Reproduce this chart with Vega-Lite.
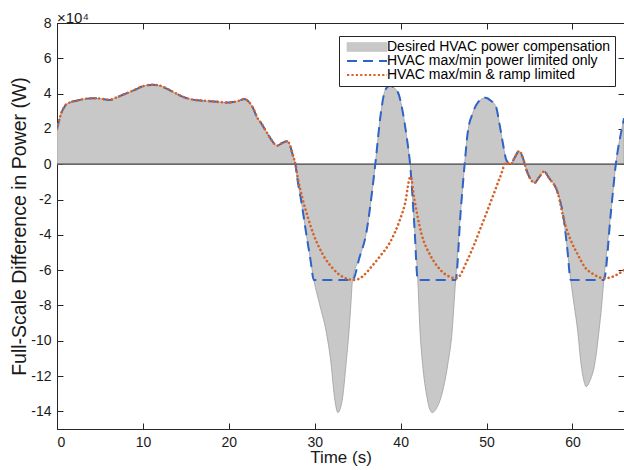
{
  "$schema": "https://vega.github.io/schema/vega-lite/v6.json",
  "width": 567,
  "height": 406,
  "autosize": "none",
  "padding": {"left": 57, "top": 23, "right": 0, "bottom": 41},
  "background": "white",
  "config": {
    "font": "Liberation Sans",
    "view": {"stroke": "#262626", "strokeWidth": 1},
    "axis": {"grid": false, "domainColor": "#262626", "tickColor": "#262626", "labelColor": "#1a1a1a", "titleColor": "#1a1a1a", "labelFontSize": 14, "titleFontWeight": "normal", "labelFont": "Liberation Sans", "titleFont": "Liberation Sans"}
  },
  "title": {"text": "×10⁴", "anchor": "start", "frame": "group", "fontSize": 15, "fontWeight": "normal", "offset": 0, "dy": 10, "color": "#1a1a1a", "font": "Liberation Sans"},
  "data": {"values": [
    {"t":0,"s":"d","p":20000},{"t":0.5,"s":"d","p":29000},{"t":1,"s":"d","p":33500},{"t":1.5,"s":"d","p":35000},{"t":2.25,"s":"d","p":36000},{"t":3,"s":"d","p":36800},{"t":4.2,"s":"d","p":37400},{"t":5,"s":"d","p":37200},{"t":6.1,"s":"d","p":36400},{"t":7,"s":"d","p":38000},{"t":8,"s":"d","p":40000},{"t":9,"s":"d","p":42000},{"t":10,"s":"d","p":44200},{"t":11.2,"s":"d","p":45000},{"t":12,"s":"d","p":44500},{"t":12.7,"s":"d","p":43000},{"t":13.7,"s":"d","p":40500},{"t":14.6,"s":"d","p":38300},{"t":15.8,"s":"d","p":36600},{"t":17,"s":"d","p":36000},{"t":17.8,"s":"d","p":35700},{"t":19,"s":"d","p":35200},{"t":19.7,"s":"d","p":34900},{"t":20.5,"s":"d","p":35200},{"t":21.2,"s":"d","p":36000},{"t":21.8,"s":"d","p":37000},{"t":22.3,"s":"d","p":35500},{"t":22.8,"s":"d","p":32000},{"t":23.3,"s":"d","p":26500},{"t":23.8,"s":"d","p":23000},{"t":24.3,"s":"d","p":19000},{"t":25,"s":"d","p":13500},{"t":25.6,"s":"d","p":10500},{"t":26.2,"s":"d","p":12000},{"t":26.8,"s":"d","p":13000},{"t":27.1,"s":"d","p":11000},{"t":27.4,"s":"d","p":6000},{"t":27.75,"s":"d","p":0},{"t":28,"s":"d","p":-9000},{"t":28.4,"s":"d","p":-20000},{"t":29,"s":"d","p":-39000},{"t":29.5,"s":"d","p":-54000},{"t":29.9,"s":"d","p":-65600},{"t":30.6,"s":"d","p":-80000},{"t":31.3,"s":"d","p":-94000},{"t":31.9,"s":"d","p":-113000},{"t":32.3,"s":"d","p":-132000},{"t":32.7,"s":"d","p":-140700},{"t":33,"s":"d","p":-138000},{"t":33.25,"s":"d","p":-132000},{"t":33.65,"s":"d","p":-113000},{"t":34,"s":"d","p":-94000},{"t":34.2,"s":"d","p":-80000},{"t":34.4,"s":"d","p":-65600},{"t":35.2,"s":"d","p":-53000},{"t":36,"s":"d","p":-39000},{"t":36.7,"s":"d","p":-14600},{"t":37.05,"s":"d","p":0},{"t":37.7,"s":"d","p":29000},{"t":38.2,"s":"d","p":42000},{"t":38.75,"s":"d","p":44400},{"t":39.65,"s":"d","p":41000},{"t":40.2,"s":"d","p":30800},{"t":40.7,"s":"d","p":15600},{"t":41.1,"s":"d","p":0},{"t":41.6,"s":"d","p":-35000},{"t":42,"s":"d","p":-65600},{"t":42.25,"s":"d","p":-94000},{"t":42.55,"s":"d","p":-113000},{"t":43.07,"s":"d","p":-132000},{"t":43.4,"s":"d","p":-139000},{"t":43.7,"s":"d","p":-140700},{"t":44.2,"s":"d","p":-138000},{"t":44.7,"s":"d","p":-132000},{"t":45.5,"s":"d","p":-113000},{"t":46,"s":"d","p":-94000},{"t":46.2,"s":"d","p":-80000},{"t":46.4,"s":"d","p":-65600},{"t":47,"s":"d","p":-26000},{"t":47.45,"s":"d","p":0},{"t":47.8,"s":"d","p":17600},{"t":48.4,"s":"d","p":29000},{"t":49,"s":"d","p":35000},{"t":49.9,"s":"d","p":37700},{"t":50.5,"s":"d","p":36000},{"t":51.1,"s":"d","p":32600},{"t":51.5,"s":"d","p":23000},{"t":51.9,"s":"d","p":11900},{"t":52.3,"s":"d","p":2400},{"t":52.8,"s":"d","p":0},{"t":53.3,"s":"d","p":4000},{"t":53.8,"s":"d","p":7500},{"t":54.2,"s":"d","p":4000},{"t":54.7,"s":"d","p":-4000},{"t":55.6,"s":"d","p":-10500},{"t":56.1,"s":"d","p":-7500},{"t":56.7,"s":"d","p":-4200},{"t":57.3,"s":"d","p":-8000},{"t":58.3,"s":"d","p":-16400},{"t":59,"s":"d","p":-31600},{"t":59.4,"s":"d","p":-48000},{"t":59.8,"s":"d","p":-65600},{"t":60.2,"s":"d","p":-80000},{"t":60.6,"s":"d","p":-94000},{"t":61,"s":"d","p":-113000},{"t":61.3,"s":"d","p":-122000},{"t":61.6,"s":"d","p":-126000},{"t":62,"s":"d","p":-123000},{"t":62.6,"s":"d","p":-113000},{"t":63.1,"s":"d","p":-94000},{"t":63.4,"s":"d","p":-80000},{"t":63.65,"s":"d","p":-65600},{"t":64.5,"s":"d","p":-26000},{"t":65.05,"s":"d","p":0},{"t":65.8,"s":"d","p":21300},{"t":66,"s":"d","p":26000},

    {"t":0,"s":"b","p":20000},{"t":0.5,"s":"b","p":29000},{"t":1,"s":"b","p":33500},{"t":1.5,"s":"b","p":35000},{"t":2.25,"s":"b","p":36000},{"t":3,"s":"b","p":36800},{"t":4.2,"s":"b","p":37400},{"t":5,"s":"b","p":37200},{"t":6.1,"s":"b","p":36400},{"t":7,"s":"b","p":38000},{"t":8,"s":"b","p":40000},{"t":9,"s":"b","p":42000},{"t":10,"s":"b","p":44200},{"t":11.2,"s":"b","p":45000},{"t":12,"s":"b","p":44500},{"t":12.7,"s":"b","p":43000},{"t":13.7,"s":"b","p":40500},{"t":14.6,"s":"b","p":38300},{"t":15.8,"s":"b","p":36600},{"t":17,"s":"b","p":36000},{"t":17.8,"s":"b","p":35700},{"t":19,"s":"b","p":35200},{"t":19.7,"s":"b","p":34900},{"t":20.5,"s":"b","p":35200},{"t":21.2,"s":"b","p":36000},{"t":21.8,"s":"b","p":37000},{"t":22.3,"s":"b","p":35500},{"t":22.8,"s":"b","p":32000},{"t":23.3,"s":"b","p":26500},{"t":23.8,"s":"b","p":23000},{"t":24.3,"s":"b","p":19000},{"t":25,"s":"b","p":13500},{"t":25.6,"s":"b","p":10500},{"t":26.2,"s":"b","p":12000},{"t":26.8,"s":"b","p":13000},{"t":27.1,"s":"b","p":11000},{"t":27.4,"s":"b","p":6000},{"t":27.75,"s":"b","p":0},{"t":28,"s":"b","p":-9000},{"t":28.4,"s":"b","p":-20000},{"t":29,"s":"b","p":-39000},{"t":29.5,"s":"b","p":-54000},{"t":29.9,"s":"b","p":-65600},{"t":34.4,"s":"b","p":-65600},{"t":35.2,"s":"b","p":-53000},{"t":36,"s":"b","p":-39000},{"t":36.7,"s":"b","p":-14600},{"t":37.05,"s":"b","p":0},{"t":37.7,"s":"b","p":29000},{"t":38.2,"s":"b","p":42000},{"t":38.75,"s":"b","p":44400},{"t":39.65,"s":"b","p":41000},{"t":40.2,"s":"b","p":30800},{"t":40.7,"s":"b","p":15600},{"t":41.1,"s":"b","p":0},{"t":41.6,"s":"b","p":-35000},{"t":42,"s":"b","p":-65600},{"t":46.4,"s":"b","p":-65600},{"t":47,"s":"b","p":-26000},{"t":47.45,"s":"b","p":0},{"t":47.8,"s":"b","p":17600},{"t":48.4,"s":"b","p":29000},{"t":49,"s":"b","p":35000},{"t":49.9,"s":"b","p":37700},{"t":50.5,"s":"b","p":36000},{"t":51.1,"s":"b","p":32600},{"t":51.5,"s":"b","p":23000},{"t":51.9,"s":"b","p":11900},{"t":52.3,"s":"b","p":2400},{"t":52.8,"s":"b","p":0},{"t":53.3,"s":"b","p":4000},{"t":53.8,"s":"b","p":7500},{"t":54.2,"s":"b","p":4000},{"t":54.7,"s":"b","p":-4000},{"t":55.6,"s":"b","p":-10500},{"t":56.1,"s":"b","p":-7500},{"t":56.7,"s":"b","p":-4200},{"t":57.3,"s":"b","p":-8000},{"t":58.3,"s":"b","p":-16400},{"t":59,"s":"b","p":-31600},{"t":59.4,"s":"b","p":-48000},{"t":59.8,"s":"b","p":-65600},{"t":63.65,"s":"b","p":-65600},{"t":64.5,"s":"b","p":-26000},{"t":65.05,"s":"b","p":0},{"t":65.8,"s":"b","p":21300},{"t":66,"s":"b","p":26000},

    {"t":0,"s":"o","p":20000},{"t":0.5,"s":"o","p":29000},{"t":1,"s":"o","p":33500},{"t":1.5,"s":"o","p":35000},{"t":2.25,"s":"o","p":36000},{"t":3,"s":"o","p":36800},{"t":4.2,"s":"o","p":37400},{"t":5,"s":"o","p":37200},{"t":6.1,"s":"o","p":36400},{"t":7,"s":"o","p":38000},{"t":8,"s":"o","p":40000},{"t":9,"s":"o","p":42000},{"t":10,"s":"o","p":44200},{"t":11.2,"s":"o","p":45000},{"t":12,"s":"o","p":44500},{"t":12.7,"s":"o","p":43000},{"t":13.7,"s":"o","p":40500},{"t":14.6,"s":"o","p":38300},{"t":15.8,"s":"o","p":36600},{"t":17,"s":"o","p":36000},{"t":17.8,"s":"o","p":35700},{"t":19,"s":"o","p":35200},{"t":19.7,"s":"o","p":34900},{"t":20.5,"s":"o","p":35200},{"t":21.2,"s":"o","p":36000},{"t":21.8,"s":"o","p":37000},{"t":22.3,"s":"o","p":35500},{"t":22.8,"s":"o","p":32000},{"t":23.3,"s":"o","p":26500},{"t":23.8,"s":"o","p":23000},{"t":24.3,"s":"o","p":19000},{"t":25,"s":"o","p":13500},{"t":25.6,"s":"o","p":10500},{"t":26.2,"s":"o","p":12000},{"t":26.8,"s":"o","p":13000},{"t":27.1,"s":"o","p":11000},{"t":27.4,"s":"o","p":6000},{"t":27.75,"s":"o","p":0},{"t":28,"s":"o","p":-7000},{"t":28.6,"s":"o","p":-20000},{"t":29.2,"s":"o","p":-30000},{"t":29.8,"s":"o","p":-39000},{"t":30.5,"s":"o","p":-47000},{"t":31.3,"s":"o","p":-54000},{"t":32.1,"s":"o","p":-59000},{"t":32.9,"s":"o","p":-62700},{"t":33.7,"s":"o","p":-64800},{"t":34.6,"s":"o","p":-65600},{"t":35.5,"s":"o","p":-63800},{"t":36.7,"s":"o","p":-57500},{"t":37.7,"s":"o","p":-51500},{"t":38.7,"s":"o","p":-44800},{"t":39.8,"s":"o","p":-33000},{"t":40.5,"s":"o","p":-22500},{"t":41.15,"s":"o","p":-7000},{"t":41.6,"s":"o","p":-20000},{"t":42.4,"s":"o","p":-39000},{"t":43.5,"s":"o","p":-52000},{"t":44.3,"s":"o","p":-58000},{"t":45.1,"s":"o","p":-62000},{"t":46.5,"s":"o","p":-64600},{"t":47.8,"s":"o","p":-54000},{"t":48.6,"s":"o","p":-45000},{"t":49.4,"s":"o","p":-35000},{"t":50.2,"s":"o","p":-25000},{"t":50.9,"s":"o","p":-16000},{"t":51.6,"s":"o","p":-7000},{"t":52.3,"s":"o","p":1000},{"t":52.8,"s":"o","p":0},{"t":53.3,"s":"o","p":4000},{"t":53.8,"s":"o","p":7500},{"t":54.2,"s":"o","p":4000},{"t":54.7,"s":"o","p":-4000},{"t":55.6,"s":"o","p":-10500},{"t":56.1,"s":"o","p":-7500},{"t":56.7,"s":"o","p":-4200},{"t":57.3,"s":"o","p":-8000},{"t":58.3,"s":"o","p":-16400},{"t":59,"s":"o","p":-31600},{"t":59.8,"s":"o","p":-43000},{"t":60.6,"s":"o","p":-51000},{"t":61.4,"s":"o","p":-58000},{"t":62.5,"s":"o","p":-62500},{"t":63.7,"s":"o","p":-64600},{"t":64.8,"s":"o","p":-63500},{"t":66,"s":"o","p":-60000}
  ]},
  "layer": [
    {
      "transform": [{"filter": "datum.s === 'd'"}],
      "mark": {"type": "area", "interpolate": "monotone", "stroke": "#9e9e9e", "strokeWidth": 0.8, "clip": true},
      "encoding": {
        "x": {"field": "t", "type": "quantitative", "scale": {"domain": [0, 66], "nice": false, "zero": false},
          "axis": {"orient": "bottom", "values": [0, 10, 20, 30, 40, 50, 60], "tickSize": -6, "labelPadding": 12, "title": "Time (s)", "titleFontSize": 17, "titlePadding": 0}},
        "y": {"field": "p", "type": "quantitative", "stack": null, "scale": {"domain": [-150000, 80000], "nice": false},
          "axis": {"orient": "left", "values": [-140000, -120000, -100000, -80000, -60000, -40000, -20000, 0, 20000, 40000, 60000, 80000], "labelExpr": "'' + (datum.value / 10000)", "tickSize": -6, "labelPadding": 12, "title": "Full-Scale Difference in Power (W)", "titleFontSize": 19.5, "titlePadding": 1}},
        "y2": {"datum": 0},
        "color": {"field": "s", "type": "nominal", "scale": {"domain": ["d", "b", "o"], "range": ["#c8c8c8", "#2e64c8", "#d4622a"]},
          "legend": {
            "title": null, "orient": "none", "legendX": 282, "legendY": 13,
            "strokeColor": "#262626", "fillColor": "white", "padding": 4,
            "labelFontSize": 14, "labelColor": "#000000", "labelLimit": 400, "labelOffset": 13,
            "symbolSize": 1600, "rowPadding": -4, "symbolOffset": 17,
            "symbolType": {"expr": "datum.value === 'd' ? 'M-1,-0.22H1V0.22H-1Z' : 'M-1,0H1'"},
            "symbolDash": {"expr": "datum.value === 'b' ? [10, 6] : datum.value === 'o' ? [2.2, 2.2] : [1, 0]"},
            "symbolStrokeWidth": {"expr": "datum.value === 'd' ? 0.8 : 2.2"},
            "symbolStrokeColor": {"expr": "datum.value === 'd' ? '#a8a8a8' : datum.value === 'b' ? '#2e64c8' : '#d4622a'"},
            "labelExpr": "datum.value === 'd' ? 'Desired HVAC power compensation' : datum.value === 'b' ? 'HVAC max/min power limited only' : 'HVAC max/min & ramp limited'"
          }}
      }
    },
    {
      "data": {"values": [{"line": "zero"}]},
      "mark": {"type": "rule", "color": "#4d4d4d", "strokeWidth": 1.3},
      "encoding": {"y": {"datum": 0, "type": "quantitative", "axis": null}}
    },
    {
      "transform": [{"filter": "datum.s === 'b'"}],
      "mark": {"type": "line", "interpolate": "monotone", "strokeWidth": 2, "strokeDash": [10, 6], "clip": true},
      "encoding": {
        "x": {"field": "t", "type": "quantitative", "axis": {"orient": "top", "labels": false, "title": null, "domain": false, "tickSize": -6, "values": [10, 20, 30, 40, 50, 60]}},
        "y": {"field": "p", "type": "quantitative", "axis": null},
        "color": {"field": "s", "type": "nominal"}
      }
    },
    {
      "transform": [{"filter": "datum.s === 'o'"}],
      "mark": {"type": "line", "interpolate": "monotone", "strokeWidth": 2.6, "strokeDash": [0.1, 4.2], "strokeCap": "round", "clip": true},
      "encoding": {
        "x": {"field": "t", "type": "quantitative", "axis": null},
        "y": {"field": "p", "type": "quantitative", "axis": {"orient": "right", "labels": false, "title": null, "domain": false, "tickSize": -6, "values": [-140000, -120000, -100000, -80000, -60000, -40000, -20000, 0, 20000, 40000, 60000]}},
        "color": {"field": "s", "type": "nominal"}
      }
    }
  ],
  "resolve": {"axis": {"x": "independent", "y": "independent"}}
}
